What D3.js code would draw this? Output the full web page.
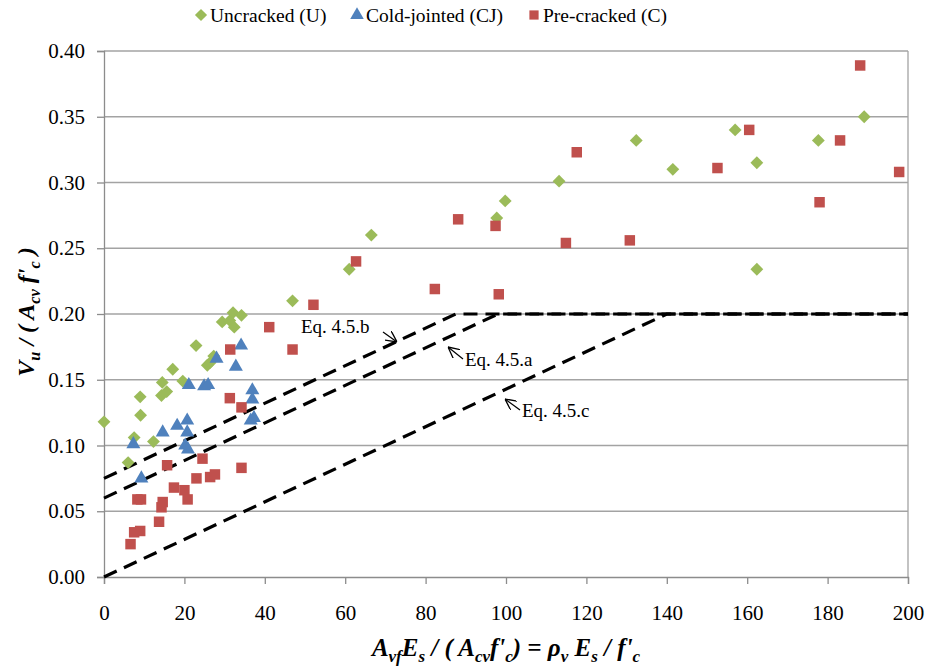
<!DOCTYPE html>
<html>
<head>
<meta charset="utf-8">
<script src="https://cdn.jsdelivr.net/npm/d3@7"></script>
<style>
  html, body { margin: 0; padding: 0; background: #fff; }
  svg { display: block; }
  svg text { font-family: "Liberation Serif", "DejaVu Serif", serif; }
</style>
</head>
<body>
<svg id="chart" width="927" height="670"></svg>
<script>
// Normalised shear strength vs. reinforcement stiffness ratio
const uncracked = [
  [0, 0.118], [6.0, 0.087], [7.5, 0.106], [9.0, 0.137], [9.1, 0.123],
  [12.3, 0.103], [14.3, 0.138], [15.6, 0.141], [14.5, 0.148], [17.1, 0.158],
  [19.6, 0.149], [22.9, 0.176], [25.7, 0.161], [26.4, 0.163], [27.3, 0.168],
  [29.4, 0.194], [31.3, 0.195], [32.1, 0.201], [32.4, 0.190], [34.2, 0.199],
  [46.9, 0.210], [61.0, 0.234], [66.5, 0.260], [97.7, 0.273], [99.8, 0.286],
  [113.2, 0.301], [132.4, 0.332], [141.5, 0.310], [157.0, 0.340], [162.4, 0.315],
  [162.4, 0.234], [177.7, 0.332], [189.1, 0.350]
];
const coldJointed = [
  [7.3, 0.101], [9.3, 0.075], [14.6, 0.110], [18.2, 0.115], [20.7, 0.119],
  [20.7, 0.110], [20.2, 0.100], [20.9, 0.097], [21.1, 0.146], [24.9, 0.145],
  [25.9, 0.146], [28.0, 0.166], [32.8, 0.160], [34.1, 0.176], [36.9, 0.142],
  [36.9, 0.135], [36.5, 0.119], [37.3, 0.121]
];
const preCracked = [
  [6.6, 0.025], [7.5, 0.034], [9.0, 0.035], [8.3, 0.059], [9.2, 0.059],
  [13.7, 0.042], [14.3, 0.053], [14.6, 0.057], [15.7, 0.085], [17.4, 0.068],
  [20.0, 0.066], [20.8, 0.059], [23.0, 0.075], [24.5, 0.090], [26.4, 0.076],
  [27.6, 0.078], [31.3, 0.136], [34.2, 0.129], [34.2, 0.083], [31.4, 0.173],
  [41.1, 0.190], [46.9, 0.173], [52.1, 0.207], [62.7, 0.240], [82.3, 0.219],
  [88.1, 0.272], [97.4, 0.267], [98.2, 0.215], [114.9, 0.254], [117.6, 0.323],
  [130.8, 0.256], [152.6, 0.311], [160.5, 0.340], [178.0, 0.285], [183.1, 0.332],
  [188.1, 0.389], [197.8, 0.308]
];

// Design equations: v = intercept + slope * x, capped at 0.20
const eqNames = ["Eq. 4.5.a", "Eq. 4.5.b", "Eq. 4.5.c"];
const eqIntercepts = [0.06, 0.075, 0.0];
const eqSlope = 1 / 700;
const eqCap = 0.20;

const seriesNames = ["Uncracked (U)", "Cold-jointed (CJ)", "Pre-cracked (C)"];
const xTicks = [0, 20, 40, 60, 80, 100, 120, 140, 160, 180, 200];
const yTicks = [0, 0.05, 0.10, 0.15, 0.20, 0.25, 0.30, 0.35, 0.40];

const colors = { U: "#9bbb59", CJ: "#4f81bd", C: "#c0504d" };
const gridColor = "#a3a3a3";
const serif = "'Liberation Serif', 'DejaVu Serif', serif";

const svg = d3.select("#chart");
const x = d3.scaleLinear().domain([0, 200]).range([104, 908]);
const y = d3.scaleLinear().domain([0, 0.40]).range([577, 51]);

// Horizontal gridlines and plot frame
svg.append("g").selectAll("line").data(yTicks.filter(d => d > 0))
  .join("line")
  .attr("x1", x(0)).attr("x2", x(200))
  .attr("y1", d => y(d)).attr("y2", d => y(d))
  .attr("stroke", gridColor).attr("stroke-width", 1.3);
svg.append("line")
  .attr("x1", x(200)).attr("x2", x(200)).attr("y1", y(0.40)).attr("y2", y(0))
  .attr("stroke", gridColor).attr("stroke-width", 1.3);

// Axes
const yAxis = svg.append("g").attr("transform", `translate(${x(0)},0)`)
  .call(d3.axisLeft(y).tickValues(yTicks).tickFormat(d3.format(".2f")).tickSize(7).tickPadding(12));
const xAxis = svg.append("g").attr("transform", `translate(0,${y(0)})`)
  .call(d3.axisBottom(x).tickValues(xTicks).tickFormat(d3.format("d")).tickSize(7).tickPadding(21));
[yAxis, xAxis].forEach(g => {
  g.attr("font-family", serif);
  g.select(".domain").attr("stroke", "#8c8c8c").attr("stroke-width", 1.3);
  g.selectAll(".tick line").attr("stroke", "#8c8c8c").attr("stroke-width", 1.3);
  g.selectAll(".tick text").attr("fill", "#000")
    .attr("font-family", serif)
    .style("font-size", "21px");
});

// Design-equation lines
const eqLine = d3.line().x(d => x(d[0])).y(d => y(d[1]));
eqIntercepts.forEach(b => {
  const xCap = (eqCap - b) / eqSlope;
  svg.append("path")
    .attr("d", eqLine([[0, b], [xCap, eqCap], [200, eqCap]]))
    .attr("fill", "none").attr("stroke", "#000")
    .attr("stroke-width", 3.2).attr("stroke-dasharray", "14,8");
});

// Markers
const diamond = d3.symbol().type(d3.symbolDiamond2).size(105);
const triangle = d3.symbol().type(d3.symbolTriangle).size(85);
const square = d3.symbol().type(d3.symbolSquare).size(110);

function drawSeries(data, sym, color) {
  svg.append("g").selectAll("path").data(data).join("path")
    .attr("d", sym)
    .attr("transform", d => `translate(${x(d[0])},${y(d[1])})`)
    .attr("fill", color);
}
drawSeries(uncracked, diamond, colors.U);
drawSeries(coldJointed, triangle, colors.CJ);
drawSeries(preCracked, square, colors.C);

// Equation callouts with open arrowheads
const defs = svg.append("defs");
defs.append("marker").attr("id", "arrowOpen")
  .attr("viewBox", "0 0 10 10").attr("refX", 10).attr("refY", 5)
  .attr("markerWidth", 11).attr("markerHeight", 11).attr("markerUnits", "userSpaceOnUse")
  .attr("orient", "auto")
  .append("path").attr("d", "M0,0 L10,5 L0,10")
  .attr("fill", "none").attr("stroke", "#000").attr("stroke-width", 1.2);

const callouts = [
  { name: eqNames[1], tx: 301, ty: 333, from: [383, 332], to: [397, 342] },
  { name: eqNames[0], tx: 465, ty: 366, from: [463, 359], to: [448, 347] },
  { name: eqNames[2], tx: 522, ty: 417, from: [520, 410], to: [505, 399] }
];
callouts.forEach(c => {
  svg.append("text").attr("x", c.tx).attr("y", c.ty)
    .attr("font-family", serif)
    .attr("font-size", 19).attr("fill", "#000").text(c.name);
  svg.append("line")
    .attr("x1", c.from[0]).attr("y1", c.from[1])
    .attr("x2", c.to[0]).attr("y2", c.to[1])
    .attr("stroke", "#000").attr("stroke-width", 1.2)
    .attr("marker-end", "url(#arrowOpen)");
});

// Legend
const legendItems = [
  { name: seriesNames[0], type: d3.symbolDiamond2, size: 95, color: colors.U, mx: 201, tx: 210 },
  { name: seriesNames[1], type: d3.symbolTriangle, size: 80, color: colors.CJ, mx: 357, tx: 366 },
  { name: seriesNames[2], type: d3.symbolSquare, size: 85, color: colors.C, mx: 534, tx: 543 }
];
legendItems.forEach(l => {
  svg.append("path").attr("d", d3.symbol().type(l.type).size(l.size))
    .attr("transform", `translate(${l.mx},15)`).attr("fill", l.color);
  svg.append("text").attr("x", l.tx).attr("y", 22)
    .attr("font-family", serif)
    .attr("font-size", 19.5).attr("fill", "#000").text(l.name);
});

// Rich-text helper for axis titles with subscripts
function richText(textSel, parts, size) {
  let shifted = false;
  parts.forEach(([str, sub]) => {
    const t = textSel.append("tspan").text(str);
    if (sub) {
      t.attr("font-size", size * 0.68);
      if (!shifted) { t.attr("dy", size * 0.25); shifted = true; }
    } else {
      t.attr("font-size", size);
      if (shifted) { t.attr("dy", -size * 0.25); shifted = false; }
    }
  });
}

const yTitle = svg.append("text")
  .attr("transform", "translate(34,312) rotate(-90)")
  .attr("text-anchor", "middle").attr("font-family", serif)
  .attr("font-weight", "bold").attr("font-style", "italic").attr("fill", "#000");
richText(yTitle, [["V"], ["u", true], [" / ( A"], ["cv", true], [" f'"], ["c", true], [" )"]], 24);

const xTitle = svg.append("text")
  .attr("x", 506).attr("y", 656)
  .attr("text-anchor", "middle").attr("font-family", serif)
  .attr("font-weight", "bold").attr("font-style", "italic").attr("fill", "#000");
richText(xTitle, [["A"], ["vf", true], ["E"], ["s", true], [" / ( A"], ["cv", true], ["f'"], ["c", true],
  [") = ρ"], ["v", true], [" E"], ["s", true], [" / f'"], ["c", true]], 25);
</script>
</body>
</html>
